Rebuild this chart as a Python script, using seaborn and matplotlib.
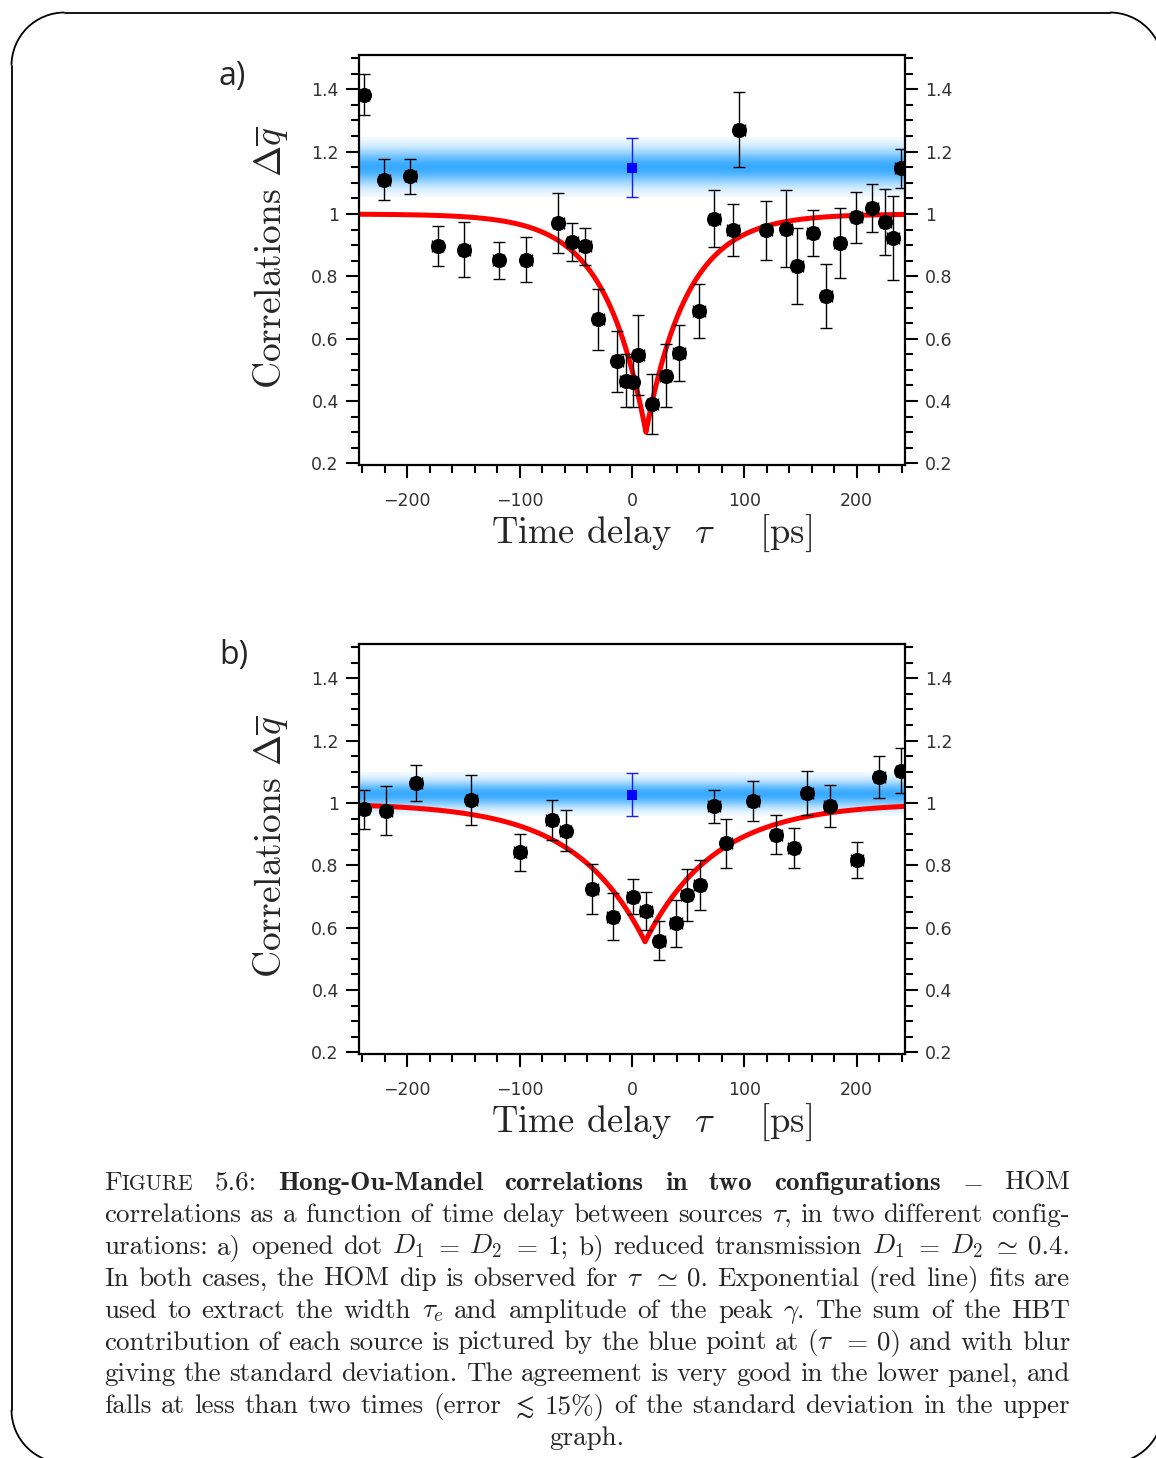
import numpy as np
import pandas as pd
import matplotlib
matplotlib.use("Agg")
import matplotlib.pyplot as plt
import seaborn as sns
from matplotlib.patches import Arc
from matplotlib.lines import Line2D
from matplotlib.transforms import IdentityTransform
from matplotlib.ticker import MultipleLocator, FuncFormatter

# ---------------- data ----------------
# panel a) opened dot
tau_a = [-238.8, -220.4, -197.3, -173.0, -149.3, -118.8, -94.2, -65.5, -53.0, -41.8,
         -30.0, -13.0, -5.6, 0.6, 5.6, 18.0, 30.0, 41.8, 59.6, 73.2,
         90.0, 95.4, 119.7, 137.5, 147.0, 161.0, 173.0, 185.0, 199.7, 214.0,
         225.5, 232.3, 239.0]
corr_a = [1.383, 1.110, 1.121, 0.897, 0.886, 0.851, 0.854, 0.971, 0.910, 0.896,
          0.662, 0.527, 0.466, 0.461, 0.547, 0.392, 0.482, 0.554, 0.689, 0.985,
          0.948, 1.271, 0.948, 0.953, 0.832, 0.939, 0.737, 0.907, 0.990, 1.019,
          0.974, 0.923, 1.146]
err_a = [0.066, 0.066, 0.057, 0.065, 0.089, 0.059, 0.071, 0.095, 0.060, 0.058,
         0.099, 0.099, 0.085, 0.080, 0.128, 0.096, 0.100, 0.090, 0.086, 0.092,
         0.084, 0.121, 0.094, 0.123, 0.122, 0.074, 0.103, 0.112, 0.082, 0.076,
         0.105, 0.135, 0.062]
hbt_a, hbt_err_a = 1.148, 0.095
fit_a = dict(center=12.4, amplitude=0.70, width=37.0)

# panel b) reduced transmission
tau_b = [-238.8, -218.7, -192.0, -143.1, -99.6, -71.4, -59.0, -35.3, -17.2, 0.6,
         12.4, 24.3, 39.1, 48.6, 60.4, 72.9, 84.1, 107.9, 128.6, 144.0,
         156.2, 176.0, 200.3, 220.0, 239.7]
corr_b = [0.980, 0.975, 1.064, 1.011, 0.842, 0.945, 0.911, 0.724, 0.636, 0.699,
          0.654, 0.558, 0.614, 0.705, 0.737, 0.989, 0.871, 1.007, 0.898, 0.855,
          1.032, 0.991, 0.817, 1.084, 1.103]
err_b = [0.062, 0.079, 0.057, 0.080, 0.059, 0.065, 0.066, 0.079, 0.076, 0.056,
         0.060, 0.063, 0.075, 0.083, 0.080, 0.052, 0.079, 0.064, 0.063, 0.065,
         0.070, 0.067, 0.059, 0.068, 0.072]
hbt_b, hbt_err_b = 1.027, 0.070
fit_b = dict(center=11.6, amplitude=0.445, width=62.0)

tau_err = 5.0          # horizontal (time) uncertainty, ps
hbt_tau = 0.0

x_ticks = [-200, -100, 0, 100, 200]
y_ticks = [0.2, 0.4, 0.6, 0.8, 1.0, 1.2, 1.4]

# ---------------- style ----------------
sns.set_style("ticks")
plt.rcParams["mathtext.fontset"] = "cm"
plt.rcParams["font.family"] = ["DejaVu Sans"]

W, H = 1156, 1458
fig = plt.figure(figsize=(W / 100, H / 100), dpi=100)
fig.patch.set_facecolor("white")


def rect(l, t, r, b):
    return [l / W, 1 - b / H, (r - l) / W, (b - t) / H]


XLIM = (-243, 243)
YLIM = (0.195, 1.51)


def draw_panel(ax, tau, corr, err, hbt, hbt_err, fit):
    # blurred HBT band
    n = 300
    yy = np.linspace(-1, 1, n)
    alpha = np.exp(-0.5 * (yy / 0.42) ** 2)
    img = np.zeros((n, 2, 4))
    img[..., 0] = 0.22
    img[..., 1] = 0.67
    img[..., 2] = 1.0
    img[..., 3] = alpha[:, None]
    ax.imshow(img, extent=[XLIM[0], XLIM[1], hbt - hbt_err, hbt + hbt_err],
              origin="lower", aspect="auto", interpolation="bilinear", zorder=0)

    # exponential fit curve
    t = np.linspace(XLIM[0], XLIM[1], 2001)
    t = np.sort(np.append(t, fit["center"]))
    f = 1 - fit["amplitude"] * np.exp(-np.abs(t - fit["center"]) / fit["width"])
    sns.lineplot(x=t, y=f, ax=ax, color="#ff0000", lw=3.6, zorder=2,
                 estimator=None, sort=False, legend=False)

    # data points with error bars
    df = pd.DataFrame({"tau": tau, "corr": corr, "err": err})
    ax.errorbar(df["tau"], df["corr"], yerr=df["err"], xerr=tau_err, fmt="none",
                ecolor="black", elinewidth=1.0, capsize=4.3, capthick=1.0, zorder=3)
    sns.scatterplot(data=df, x="tau", y="corr", ax=ax, color="black", s=118,
                    marker="o", linewidth=0, zorder=4, legend=False)

    # HBT blue point
    ax.errorbar([hbt_tau], [hbt], yerr=[hbt_err], fmt="none", ecolor="#1a1aff",
                elinewidth=1.0, capsize=4.3, capthick=1.0, zorder=3)
    sns.scatterplot(x=[hbt_tau], y=[hbt], ax=ax, color="#0000ff", marker="s",
                    s=62, linewidth=0, zorder=4, legend=False)

    ax.set_xlim(*XLIM)
    ax.set_ylim(*YLIM)
    ax.set_xticks(x_ticks)
    ax.set_yticks(y_ticks)
    ax.xaxis.set_minor_locator(MultipleLocator(20))
    ax.yaxis.set_minor_locator(MultipleLocator(0.05))
    ax.xaxis.set_major_formatter(FuncFormatter(lambda v, p: f"{v:g}".replace("-", "\u2212")))
    ax.yaxis.set_major_formatter(FuncFormatter(lambda v, p: f"{round(v, 2):g}"))
    ax.set_xlabel("")
    ax.set_ylabel("")
    for s in ax.spines.values():
        s.set_visible(True)
        s.set_linewidth(1.6)
        s.set_color("black")
    ax.tick_params(axis="both", which="both", direction="out", width=1.5,
                   color="black", labelcolor="#333333", labelsize=12.5)
    ax.tick_params(which="major", length=9.5)
    ax.tick_params(which="minor", length=5.5)
    ax.tick_params(axis="y", which="both", left=True, right=True,
                   labelleft=True, labelright=True, pad=5)
    ax.tick_params(axis="x", which="both", top=False, bottom=True, pad=10)

    ax.text(-0.161, 0.506, r"Correlations $\Delta\overline{q}$", rotation=90,
            transform=ax.transAxes, ha="center", va="center", fontsize=27,
            family="cmr10")
    ax.text(0.536, -0.19, r"Time delay  $\tau$    [ps]", transform=ax.transAxes,
            ha="center", va="baseline", fontsize=26.3, family="cmr10")


ax_a = fig.add_axes(rect(359, 55, 905, 465))
ax_b = fig.add_axes(rect(359, 644, 905, 1054))
draw_panel(ax_a, tau_a, corr_a, err_a, hbt_a, hbt_err_a, fit_a)
draw_panel(ax_b, tau_b, corr_b, err_b, hbt_b, hbt_err_b, fit_b)

fig.text(219 / W, 1 - 85 / H, "a)", fontsize=23, family="Open Sans", va="baseline")
fig.text(219 / W, 1 - 664 / H, "b)", fontsize=23, family="Open Sans", va="baseline")

# ---------------- rounded frame (only the visible parts) ----------------
R = 53.0
L_, T_, R_, B_ = 11.5, 12.5, 1163.0, 1463.0
ident = IdentityTransform()
frame_kw = dict(color="black", linewidth=1.3, transform=ident)
fig.add_artist(Line2D([L_ + R, R_ - R], [H - T_, H - T_], **frame_kw))
fig.add_artist(Line2D([L_, L_], [H - (T_ + R), H - (B_ - R)], **frame_kw))
for (cx, cy, a1, a2) in [(L_ + R, T_ + R, 90, 180), (R_ - R, T_ + R, 0, 90),
                         (L_ + R, B_ - R, 180, 270), (R_ - R, B_ - R, 270, 360)]:
    fig.add_artist(Arc((cx, H - cy), 2 * R, 2 * R, theta1=a1, theta2=a2,
                       edgecolor="black", linewidth=1.3, transform=ident))

# ---------------- caption (justified) ----------------
cap_lines = [
    [[("F", "r"), ("IGURE", "sc")], "5.6:", [("Hong-Ou-Mandel", "b")],
     [("correlations", "b")], [("in", "b")], [("two", "b")],
     [("configurations", "b")], "$-$", "HOM"],
    "correlations as a function of time delay between sources $\\tau$, in two different config-".split(" "),
    "urations: a) opened dot $D_1$ $=$ $D_2$ $=$ 1; b) reduced transmission $D_1$ $=$ $D_2$ $\\simeq$ 0.4.".split(" "),
    "In both cases, the HOM dip is observed for $\\tau$ $\\simeq$ 0. Exponential (red line) fits are".split(" "),
    "used to extract the width $\\tau_e$ and amplitude of the peak $\\gamma$. The sum of the HBT".split(" "),
    "contribution of each source is pictured by the blue point at ($\\tau$ $=$ 0) and with blur".split(" "),
    "giving the standard deviation. The agreement is very good in the lower panel, and".split(" "),
    "falls at less than two times (error $\\lesssim$ 15%) of the standard deviation in the upper".split(" "),
    ["graph."],
]

renderer = fig.canvas.get_renderer()
X0, X1 = 104.0, 1070.0
BASE0, LSTEP = 1190.0, 31.9


def make_segments(word, fs):
    segs = word if isinstance(word, list) else [(word, "r")]
    out = []
    for txt, kind in segs:
        if kind == "b":
            kw = dict(family="cmb10", fontsize=fs)
        elif kind == "sc":
            kw = dict(family="cmr10", fontsize=fs * 0.8)
        else:
            kw = dict(family="cmr10", fontsize=fs)
        t = fig.text(0, 0, txt, va="baseline", ha="left", **kw)
        w = t.get_window_extent(renderer).width
        out.append((t, w))
    return out


def fit_scale(fs, space_em):
    worst = 10.0
    for line in cap_lines[:-1]:
        objs = [make_segments(w, fs) for w in line]
        tot = sum(sum(w for _, w in o) for o in objs)
        for o in objs:
            for t, _ in o:
                t.remove()
        need = tot + (len(line) - 1) * space_em * fs * 100 / 72
        worst = min(worst, (X1 - X0) / need)
    return worst


fs_cap = 19.0
fs_cap = fs_cap * min(1.12, fit_scale(fs_cap, 0.30))

for i, line in enumerate(cap_lines):
    base = BASE0 + i * LSTEP
    objs = [make_segments(w, fs_cap) for w in line]
    widths = [sum(w for _, w in o) for o in objs]
    if i == len(cap_lines) - 1:
        x = (X0 + X1) / 2 - sum(widths) / 2
        gap = 0
    else:
        gap = (X1 - X0 - sum(widths)) / (len(objs) - 1)
        x = X0
    for o, ww in zip(objs, widths):
        xx = x
        for t, w in o:
            t.set_position((xx / W, 1 - base / H))
            xx += w
        x += ww + gap

fig.savefig("out.png", dpi=100, facecolor="white")
